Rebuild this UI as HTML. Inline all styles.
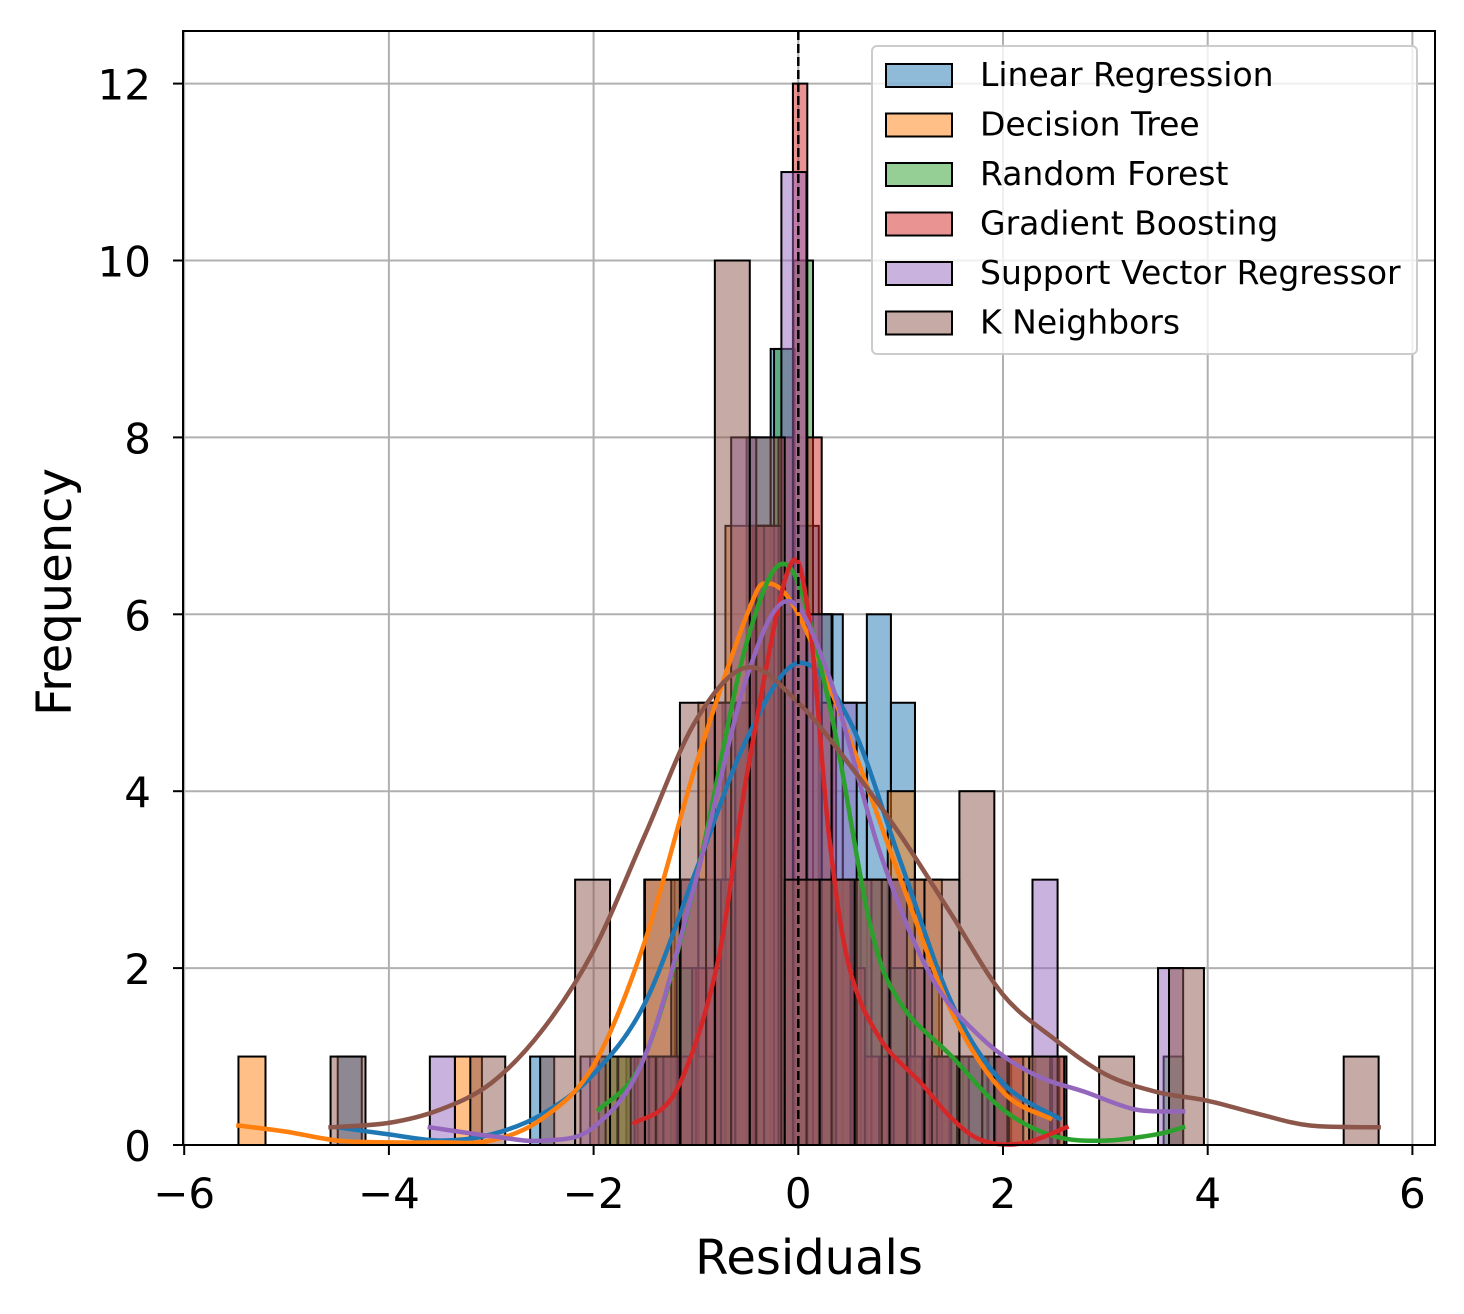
<!DOCTYPE html>
<html><head><meta charset="utf-8"><style>
body{margin:0;background:#fff}
svg{display:block;font-family:"DejaVu Sans","Liberation Sans",sans-serif}
</style></head><body>
<svg id="chart" width="1464" height="1314" viewBox="0 0 1464 1314" xmlns="http://www.w3.org/2000/svg">
<rect width="1464" height="1314" fill="#fff"/>
<g id="grid"></g><g id="bars"></g><g id="lines"></g><g id="axes"></g><g id="legend"></g>
</svg>
<script>
const models=["Linear Regression","Decision Tree","Random Forest","Gradient Boosting","Support Vector Regressor","K Neighbors"];
const colors=["#1f77b4","#ff7f0e","#2ca02c","#d62728","#9467bd","#8c564b"];
const binStarts=[-4.5,-5.47,-1.95,-1.6,-3.6,-4.57];
const binEnds=[2.55,2.46,3.76,2.62,3.76,5.67];
const countsLR=[1,0,0,0,0,0,0,0,1,0,0,0,1,1,3,3,5,8,9,7,6,5,6,5,2,1,1,1,0,1];
const countsDT=[1,0,0,0,0,0,0,0,1,0,0,0,0,1,1,3,3,5,7,7,6,3,3,3,4,3,1,0,1,1];
const countsRF=[1,1,1,1,2,1,3,5,7,9,10,6,3,3,3,2,1,1,1,1,1,0,0,0,0,0,0,0,0,1];
const countsGB=[1,1,1,1,2,2,3,5,7,7,8,12,8,5,3,2,1,1,1,1,1,1,0,0,0,1,1,0,0,1];
const countsSVR=[1,0,0,0,0,0,1,0,1,1,3,5,8,7,11,6,5,3,3,2,1,1,1,0,3,0,0,0,0,2];
const countsKN=[1,0,0,0,1,0,1,3,1,3,5,10,8,3,3,3,3,3,4,1,1,0,1,0,2,0,0,0,0,1];
const allCounts=[countsLR,countsDT,countsRF,countsGB,countsSVR,countsKN];
const kdeXLR=[-4.5,-4,-3.5,-3,-2.5,-2,-1.5,-1,-0.5,0,0.5,1,1.5,2,2.55];
const kdeYLR=[0.2,0.12,0.05,0.12,0.35,0.8,1.6,3.1,4.6,5.45,4.8,3.2,1.6,0.7,0.3];
const kdeXDT=[-5.47,-5,-4.5,-4,-3.5,-3,-2.5,-2,-1.5,-1,-0.5,-0.3,0,0.5,1,1.5,2,2.46];
const kdeYDT=[0.22,0.15,0.05,0.03,0.03,0.05,0.3,0.9,2.3,4.3,6.0,6.35,6.0,4.6,3.0,1.5,0.6,0.3];
const kdeXRF=[-1.95,-1.5,-1,-0.5,-0.1,0.3,0.7,1,1.5,2,2.5,3,3.5,3.76];
const kdeYRF=[0.4,1.0,3.0,5.7,6.55,5.0,2.5,1.6,1.0,0.4,0.1,0.05,0.12,0.2];
const kdeXGB=[-1.6,-1.2,-0.8,-0.5,-0.1,0.1,0.3,0.5,0.8,1.2,1.5,1.8,2.2,2.62];
const kdeYGB=[0.25,0.6,2.0,4.2,6.5,6.0,3.5,2.0,1.2,0.7,0.3,0.05,0.02,0.2];
const kdeXSVR=[-3.6,-3,-2.5,-2,-1.5,-1,-0.5,-0.1,0.3,0.8,1.3,1.8,2.3,2.8,3.3,3.76];
const kdeYSVR=[0.2,0.1,0.05,0.2,1.0,3.0,5.3,6.15,5.3,3.3,1.9,1.2,0.8,0.6,0.4,0.38];
const kdeXKN=[-4.57,-4,-3.5,-3,-2.5,-2,-1.5,-1,-0.5,0,0.5,1,1.5,2,2.5,3,3.5,4,4.5,5,5.67];
const kdeYKN=[0.2,0.25,0.4,0.7,1.3,2.2,3.5,4.8,5.4,5.0,4.3,3.5,2.6,1.7,1.2,0.8,0.6,0.5,0.35,0.22,0.2];
const kdeX=[kdeXLR,kdeXDT,kdeXRF,kdeXGB,kdeXSVR,kdeXKN];
const kdeY=[kdeYLR,kdeYDT,kdeYRF,kdeYGB,kdeYSVR,kdeYKN];
const xTicks=[-6,-4,-2,0,2,4,6];
const yTicks=[0,2,4,6,8,10,12];
const xTickLabels=["\u22126","\u22124","\u22122","0","2","4","6"];
const yTickLabels=["0","2","4","6","8","10","12"];

const L=183,R=1435,T=31,B=1145;
const X=v=>798.3+v*102.35;
const Y=v=>B-v*88.45;
const NS="http://www.w3.org/2000/svg";
function mk(tag,attrs,parent){const e=document.createElementNS(NS,tag);for(const k in attrs)e.setAttribute(k,attrs[k]);parent.appendChild(e);return e;}
const grid=document.getElementById('grid'),bars=document.getElementById('bars'),lines=document.getElementById('lines'),axes=document.getElementById('axes'),legend=document.getElementById('legend');
xTicks.forEach((t,i)=>{
 const g=mk('line',{x1:X(t),x2:X(t),y1:T,y2:B,stroke:'#b0b0b0','stroke-width':2},grid);
 
 
 mk('line',{x1:X(t),x2:X(t),y1:B,y2:B+10,stroke:'#000','stroke-width':2},axes);
 const tx=mk('text',{x:X(t),y:1208,'font-size':42,'text-anchor':'middle',fill:'#000'},axes);
 tx.textContent=xTickLabels[i];
 
 
});
yTicks.forEach((t,i)=>{
 const g=mk('line',{x1:L,x2:R,y1:Y(t),y2:Y(t),stroke:'#b0b0b0','stroke-width':2},grid);
 
 
 mk('line',{x1:L-10,x2:L,y1:Y(t),y2:Y(t),stroke:'#000','stroke-width':2},axes);
 const tx=mk('text',{x:L-32,y:Y(t)+16,'font-size':42,'text-anchor':'end',fill:'#000'},axes);
 tx.textContent=yTickLabels[i];
 
 
});
models.forEach((m,mi)=>{
 const c=allCounts[mi],w=(binEnds[mi]-binStarts[mi])/c.length;
 c.forEach((v,k)=>{
  if(v<=0)return;
  const x0=X(binStarts[mi]+k*w),x1=X(binStarts[mi]+(k+1)*w);
  const r=mk('rect',{x:x0,y:Y(v),width:x1-x0,height:B-Y(v),fill:colors[mi],'fill-opacity':0.5,stroke:'#000','stroke-width':2},bars);
  
  
 });
});
function smooth(px,py){
 let d=`M${px[0]},${py[0]}`;
 for(let i=0;i<px.length-1;i++){
  const x0=px[Math.max(i-1,0)],y0=py[Math.max(i-1,0)],x1=px[i],y1=py[i],x2=px[i+1],y2=py[i+1],x3=px[Math.min(i+2,px.length-1)],y3=py[Math.min(i+2,px.length-1)];
  d+=` C${x1+(x2-x0)/6},${y1+(y2-y0)/6} ${x2-(x3-x1)/6},${y2-(y3-y1)/6} ${x2},${y2}`;
 }
 return d;
}
models.forEach((m,mi)=>{
 const p=mk('path',{d:smooth(kdeX[mi].map(X),kdeY[mi].map(Y)),fill:'none',stroke:colors[mi],'stroke-width':4.5,'stroke-linejoin':'round','stroke-linecap':'square'},lines);
 
 
});
const zl=mk('line',{x1:X(0),x2:X(0),y1:T,y2:B,stroke:'#000','stroke-width':2.5,'stroke-dasharray':'9,4'},lines);


const fr=mk('rect',{x:L,y:T,width:R-L,height:B-T,fill:'none',stroke:'#000','stroke-width':2},axes);


const xl=mk('text',{x:809,y:1274,'font-size':48,'text-anchor':'middle',fill:'#000'},axes);
xl.textContent='Residuals';


const yl=mk('text',{x:0,y:0,'font-size':48,'text-anchor':'middle',fill:'#000',transform:'translate(71,592) rotate(-90)'},axes);
yl.textContent='Frequency';


const lb=mk('rect',{x:872,y:46,width:545,height:308,rx:5,fill:'#fff','fill-opacity':0.8,stroke:'#ccc','stroke-width':2},legend);


models.forEach((m,mi)=>{
 const cy=75+mi*49.5;
 const pr=mk('rect',{x:886,y:cy-11,width:66,height:23,fill:colors[mi],'fill-opacity':0.5,stroke:'#000','stroke-width':2},legend);
 
 
 const t=mk('text',{x:980,y:cy+11,'font-size':33,fill:'#000'},legend);
 t.textContent=m;
 
 
});
</script>
</body></html>
